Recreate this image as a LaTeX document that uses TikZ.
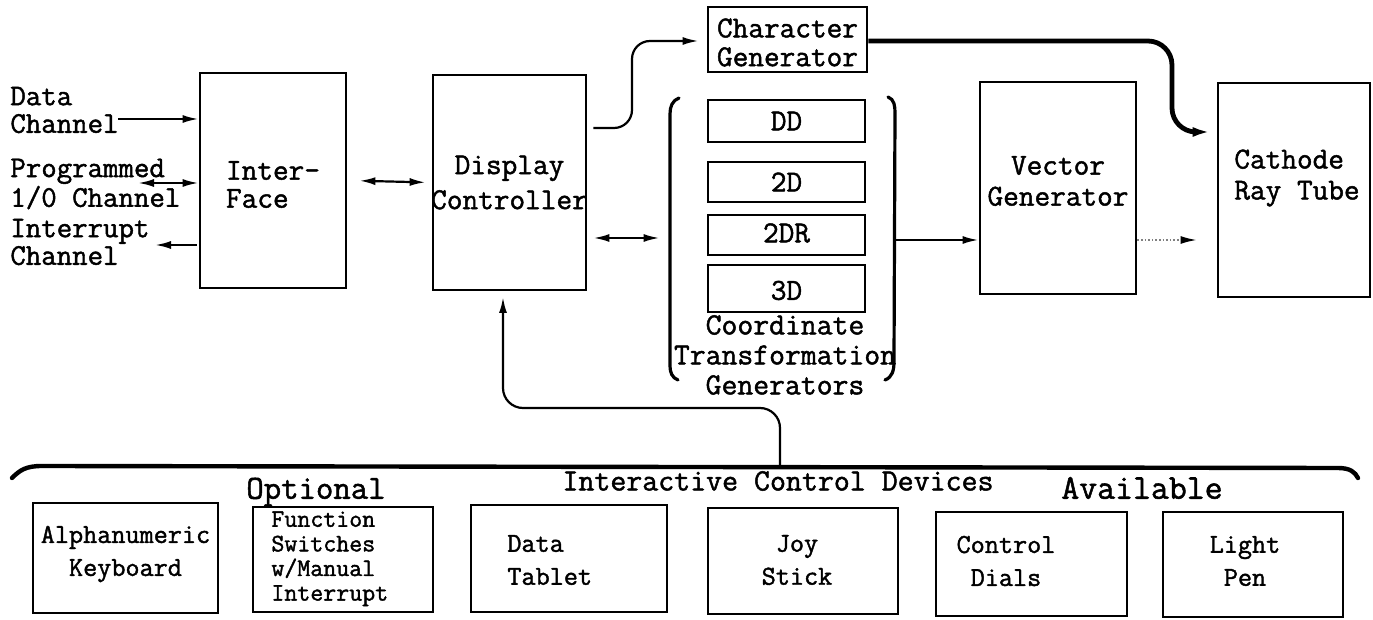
\documentclass[tikz,border=0pt]{standalone}
\usepackage{fontspec}
\newfontfamily\tw{Latin Modern Mono}[FakeBold=1.5]
\usetikzlibrary{arrows.meta,fit}
\newcommand\fsA{\tw\fontsize{15.2}{14}\selectfont}
\newcommand\fsB{\tw\fontsize{15.2}{17.5}\selectfont}
\newcommand\fsC{\tw\fontsize{15.2}{14.4}\selectfont}
\newcommand\fsD{\tw\fontsize{13.7}{16.5}\selectfont}
\newcommand\fsE{\tw\fontsize{12.6}{12.3}\selectfont}
\newcommand\fsL{\tw\fontsize{15}{13.8}\selectfont}
\begin{document}
\begin{tikzpicture}[x=0.5pt,y=-0.5pt,
  box/.style={draw, line width=1.4pt, inner sep=0pt},
  lbl/.style={inner sep=0pt, align=left, anchor=west, font=\fsL},
  txt/.style={inner sep=0pt, align=center, font=\fsA},
  conn/.style={line width=1.1pt, -{Latex[length=8pt,width=4pt]}},
  dconn/.style={line width=1.1pt, {Latex[length=8pt,width=4pt]}-{Latex[length=8pt,width=4pt]}},
  fatconn/.style={line width=2.4pt, -{Latex[length=9pt,width=5pt]}},
  dotconn/.style={line width=0.8pt, densely dotted, draw=gray, -{Latex[length=8pt,width=4pt,black]}},
  brk/.style={line width=1.6pt, line cap=round},
  brc/.style={line width=2.2pt, line cap=round}]
\useasboundingbox (0,0) rectangle (1373,620);

% --- top row boxes ---
\node[box, fit={(200,73)(346,288)}] (iface) {};
\node[txt, align=left] (ifacet) at ([yshift=-2pt]iface.center) {Inter-\\Face};
\node[box, fit={(433,75)(586,290)}] (disp) {};
\node[txt, font=\fsB] (dispt) at (disp.center) {Display\\Controller};
\node[box, fit={(708,7)(867,72)}] (cg) {};
\node[txt, font=\fsC] (cgt) at ([yshift=-1.5pt]cg.center) {Character\\Generator};
\node[box, fit={(708,100)(865,142)}] (dd) {};
\node[txt] at (dd.center) {DD};
\node[box, fit={(708,162)(865,202)}] (d2) {};
\node[txt] at (d2.center) {2D};
\node[box, fit={(708,215)(865,255)}] (d2r) {};
\node[txt] at ([yshift=1pt]d2r.center) {2DR};
\node[box, fit={(708,265)(865,312)}] (d3) {};
\node[txt] at ([yshift=-1pt]d3.center) {3D};
\node[inner sep=0pt, fit={(670,97)(895,380)}] (ctg) {};
\node[txt, font=\tw\fontsize{15.4}{15}\selectfont] (ctgt) at (785,355) {Coordinate\\Transformation\\Generators};
\node[box, fit={(980,82)(1136,294)}] (vg) {};
\node[txt, font=\tw\fontsize{15.2}{15.5}\selectfont] (vgt) at (1058,181) {Vector\\Generator};
\node[box, fit={(1218,83)(1370,297)}] (crt) {};
\node[txt, align=left, font=\tw\fontsize{15.2}{15.5}\selectfont] (crtt) at (1297,178) {Cathode\\Ray Tube};

% coordinate brackets
\draw[brk] (679,98) to[out=200,in=90] (670,114) -- (670,366) to[out=-90,in=160] (678,380);
\draw[brk] (888,97) to[out=-20,in=90] (895,113) -- (894,362) to[out=-90,in=20] (885,380);

% --- left labels ---
\node[lbl] (ldata) at (10,110) {Data\\Channel};
\node[lbl] (lprog) at (10,184) {Programmed\\1/0 Channel};
\node[lbl] (lint) at (10,242) {Interrupt\\Channel};
\coordinate (dc) at (118,119);
\coordinate (pc) at (138,183);
\coordinate (ic) at (155,245);
\draw[conn] (dc) -- (iface.west |- dc);
\draw[dconn] (pc) -- (iface.west |- pc);
\draw[conn] ([xshift=-1pt]iface.west |- ic) -- (ic);

% --- top connectors ---
\draw[dconn, shorten <=6pt, shorten >=3pt] (iface.east) -- (disp.west);
\draw[conn, rounded corners=9pt, shorten <=3pt, shorten >=4pt] (disp.east |- 0,128) -- (632,128) -- (632,41) -- (cg.west |- 0,41);
\draw[fatconn, rounded corners=12pt, shorten >=3pt] (cg.east |- 0,41) -- (1172,41) -- (1172,132) -- (crt.west |- 0,132);
\draw[dconn, shorten <=5pt, shorten >=3pt] (ctg.west |- 0,238) -- (disp.east |- 0,238);
\draw[conn] (ctg.east |- 0,240) -- (vg.west |- 0,240);
\draw[dotconn, shorten >=10pt] (vg.east |- 0,240) -- (crt.west |- 0,240);

% --- bottom brace ---
\draw[brc] (12,478) .. controls (20,470) and (26,466) .. (42,466) -- (1338,468) .. controls (1350,468) and (1355,472) .. (1358,478);
\coordinate (bt) at (780,466);
\draw[conn, rounded corners=10pt, shorten >=3.5pt] (bt) -- (780,408) -- (503,408) -- (503,290);

\node[txt, font=\tw\fontsize{16.9}{16}\selectfont] (opt) at (316,492) {Optional};
\node[txt, font=\tw\fontsize{15.5}{15}\selectfont] (icd) at (778,481) {Interactive Control Devices};
\node[txt, font=\tw\fontsize{17.4}{16}\selectfont] (avl) at (1142,488) {Available};

% --- bottom boxes ---
\node[box, fit={(33,503)(218,613)}] (alpha) {};
\node[txt, font=\fsD] (alphat) at ([yshift=2pt]alpha.center) {Alphanumeric\\Keyboard};
\node[box, fit={(253,507)(433,612)}] (func) {};
\node[inner sep=0pt, align=left, anchor=north west, font=\fsE] (funct) at (271,511) {Function\\Switches\\w/Manual\\Interrupt};
\node[box, fit={(471,505)(667,612)}] (tab) {};
\node[lbl, font=\fsD] (tabt) at (507,560) {Data\\Tablet};
\node[box, fit={(708,508)(898,614)}] (joy) {};
\node[txt, font=\fsD] (joyt) at (797,560) {Joy\\Stick};
\node[box, fit={(936,512)(1127,616)}] (dial) {};
\node[txt, font=\fsD] (dialt) at (1006,561) {Control\\Dials};
\node[box, fit={(1163,512)(1343,617)}] (pen) {};
\node[txt, font=\fsD] (pent) at (1245,561) {Light\\Pen};
\end{tikzpicture}
\end{document}
